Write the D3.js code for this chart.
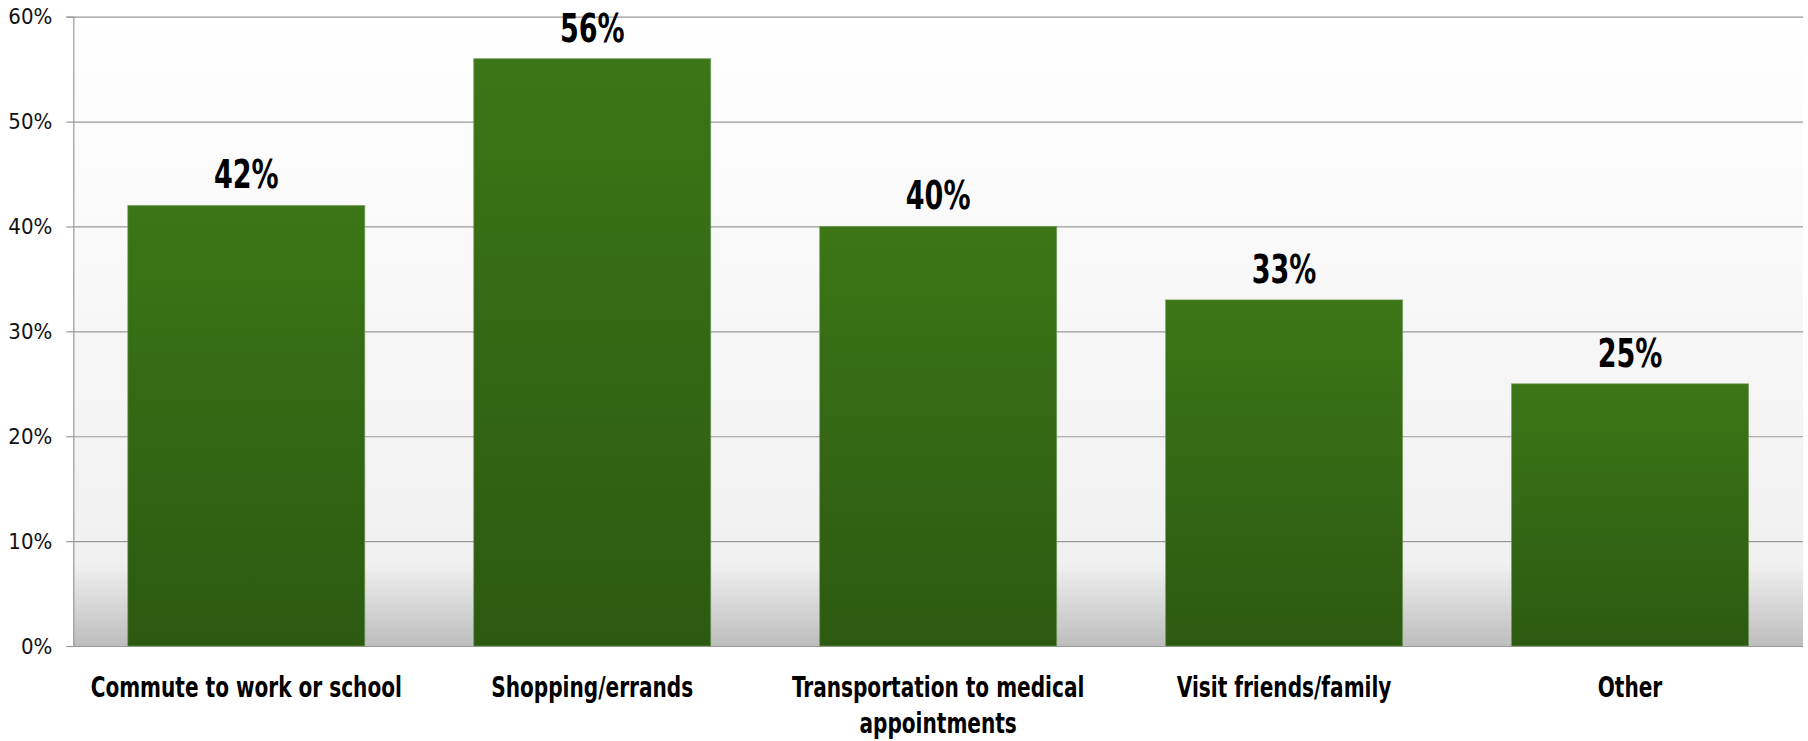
<!DOCTYPE html>
<html>
<head>
<meta charset="utf-8">
<script src="https://cdn.jsdelivr.net/npm/d3@7"></script>
<style>
  html, body { margin: 0; padding: 0; background: #ffffff; }
  svg { display: block; }
  .lbl { font-family: 'Liberation Sans Narrow', 'Arial Narrow', 'DejaVu Sans Condensed', sans-serif; }
</style>
</head>
<body>
<svg id="chart" width="1808" height="741"></svg>
<script>
const categories = ["Commute to work or school", "Shopping/errands", "Transportation to medical appointments", "Visit friends/family", "Other"];
const values = [0.42, 0.56, 0.40, 0.33, 0.25];
const tickValues = [0, 0.1, 0.2, 0.3, 0.4, 0.5, 0.6];

const W = 1808, H = 741;
const margin = { top: 16.7, right: 5, bottom: 95, left: 73.3 };
const svg = d3.select("#chart");
const defs = svg.append("defs");

const bg = defs.append("linearGradient").attr("id", "bgGrad")
  .attr("x1", 0).attr("y1", 0).attr("x2", 0).attr("y2", 1);
bg.append("stop").attr("offset", "0%").attr("stop-color", "#ffffff");
bg.append("stop").attr("offset", "60%").attr("stop-color", "#f5f5f5");
bg.append("stop").attr("offset", "87%").attr("stop-color", "#f0f0f0");
bg.append("stop").attr("offset", "100%").attr("stop-color", "#bdbdbd");

const bar = defs.append("linearGradient").attr("id", "barGrad")
  .attr("x1", 0).attr("y1", 0).attr("x2", 0).attr("y2", 1);
bar.append("stop").attr("offset", "0%").attr("stop-color", "#3c7616");
bar.append("stop").attr("offset", "100%").attr("stop-color", "#2c5a11");

const x = d3.scaleBand().domain(categories)
  .range([margin.left, W - margin.right])
  .paddingInner(0.315).paddingOuter(0.1575);
const y = d3.scaleLinear().domain([0, 0.6]).range([H - margin.bottom, margin.top]);

// plot background
svg.append("rect")
  .attr("x", margin.left).attr("y", y(0.6))
  .attr("width", W - margin.right - margin.left)
  .attr("height", y(0) - y(0.6))
  .attr("fill", "url(#bgGrad)");

// gridlines
svg.append("g")
  .attr("transform", `translate(${margin.left},0)`)
  .call(d3.axisLeft(y).tickValues(tickValues).tickSize(-(W - margin.right - margin.left)).tickFormat(""))
  .call(g => g.select(".domain").remove())
  .call(g => g.selectAll("line").attr("stroke", "#9a9a9a").attr("stroke-width", 1.2));

// y axis
const yAxis = svg.append("g")
  .attr("transform", `translate(${margin.left},0)`)
  .call(d3.axisLeft(y).tickValues(tickValues).tickSize(7).tickPadding(14).tickFormat(d3.format(".0%")));
yAxis.select(".domain").attr("stroke", "#9a9a9a").attr("stroke-width", 1.2);
yAxis.selectAll("line").attr("stroke", "#9a9a9a").attr("stroke-width", 1.2);
yAxis.selectAll("text")
  .attr("class", "lbl")
  .style("font-size", "22px")
  .attr("fill", "#111");

// bars
svg.append("g").selectAll("rect")
  .data(values)
  .join("rect")
  .attr("x", (d, i) => x(categories[i]))
  .attr("y", d => y(d))
  .attr("width", x.bandwidth())
  .attr("height", d => y(0) - y(d))
  .attr("fill", "url(#barGrad)")
  .attr("stroke", "#6a9655")
  .attr("stroke-width", 1)
  .attr("stroke-opacity", 0.6);

const SX_VAL = 0.77;
const SX_CAT = 0.77;

// value labels
svg.append("g").selectAll("g")
  .data(values)
  .join("g")
  .attr("transform", (d, i) => `translate(${x(categories[i]) + x.bandwidth() / 2},${y(d) - 17}) scale(${SX_VAL},1)`)
  .append("text")
  .attr("class", "lbl")
  .attr("text-anchor", "middle")
  .style("font-size", "39px")
  .style("font-weight", "bold")
  .attr("fill", "#000")
  .text(d => d3.format(".0%")(d));

// category labels (wrapped)
const catG = svg.append("g");
categories.forEach((c, i) => {
  const g = catG.append("g")
    .attr("transform", `translate(${x(c) + x.bandwidth() / 2},${y(0) + 51}) scale(${SX_CAT},1)`);
  const t = g.append("text")
    .attr("class", "lbl")
    .attr("text-anchor", "middle")
    .style("font-size", "29px")
    .style("font-weight", "bold")
    .attr("fill", "#000");
  const words = c.split(" ");
  const maxW = x.step() * 0.98 / SX_CAT;
  let line = [];
  let tspan = t.append("tspan").attr("x", 0).attr("dy", 0);
  words.forEach(w => {
    line.push(w);
    tspan.text(line.join(" "));
    if (tspan.node().getComputedTextLength() > maxW && line.length > 1) {
      line.pop();
      tspan.text(line.join(" "));
      line = [w];
      tspan = t.append("tspan").attr("x", 0).attr("dy", 36).text(w);
    }
  });
});
</script>
</body>
</html>
